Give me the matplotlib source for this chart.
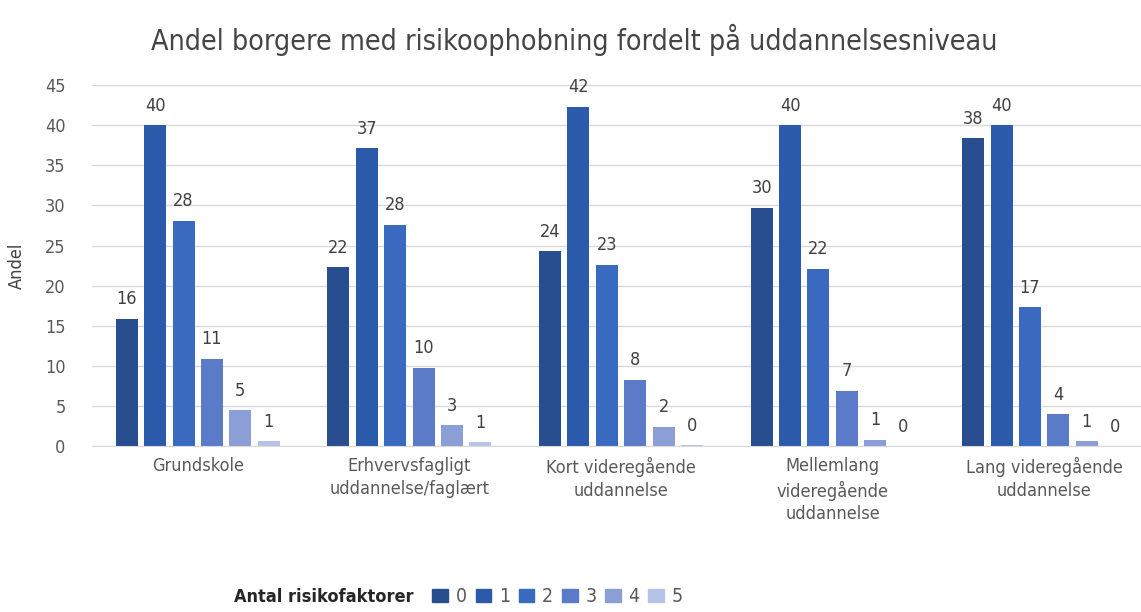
import matplotlib.pyplot as plt
import numpy as np
from matplotlib.patches import Patch

# uddannelsesniveauer
categories = ['Grundskole', 'Erhvervsfagligt\nuddannelse/faglært', 'Kort videregående\nuddannelse',
              'Mellemlang\nvideregående\nuddannelse', 'Lang videregående\nuddannelse']
series_names = ['0', '1', '2', '3', '4', '5']

# andel, en liste pr. antal risikofaktorer
r0 = [15.9, 22.3, 24.3, 29.7, 38.4]
r1 = [40.0, 37.1, 42.3, 40.0, 40.0]
r2 = [28.1, 27.6, 22.6, 22.1, 17.3]
r3 = [10.9, 9.8, 8.3, 6.9, 4.0]
r4 = [4.5, 2.6, 2.4, 0.8, 0.6]
r5 = [0.6, 0.5, 0.1, 0.0, 0.0]

# viste etiketter
l0 = ['16', '22', '24', '30', '38']
l1 = ['40', '37', '42', '40', '40']
l2 = ['28', '28', '23', '22', '17']
l3 = ['11', '10', '8', '7', '4']
l4 = ['5', '3', '2', '1', '1']
l5 = ['1', '1', '0', '0', '0']

values = [r0, r1, r2, r3, r4, r5]
labels = [l0, l1, l2, l3, l4, l5]
colors = ['#284e8f', '#2c5aab', '#3a69c0', '#5b7bc9', '#8b9fd6', '#b7c3e6']

plt.rcParams['font.family'] = 'DejaVu Sans'
plt.rcParams['font.stretch'] = 'condensed'

fig = plt.figure(figsize=(11.41, 6.12), dpi=100)
# plotområdet går lidt ud over højre kant, som i originalen
ax = fig.add_axes([0.0806, 0.271, 0.9273, 0.590])

x = np.arange(len(categories))
pitch = 0.134
width = 0.104
for i, (vals, labs) in enumerate(zip(values, labels)):
    pos = x + (i - 2.5) * pitch
    ax.bar(pos, vals, width, color=colors[i], zorder=2)
    for p, v, t in zip(pos, vals, labs):
        ax.text(p, v + 1.3, t, ha='center', va='bottom', fontsize=13, color='#404040')

ax.set_xlim(-0.5, len(categories) - 0.5)
ax.set_ylim(0, 45)
ax.set_yticks(range(0, 46, 5))
ax.set_xticks(x)
ax.set_xticklabels(categories, fontsize=13, color='#595959', linespacing=1.33)
ax.tick_params(axis='y', labelsize=13, labelcolor='#595959', length=0, pad=19)
ax.tick_params(axis='x', length=0, pad=8)
ax.yaxis.grid(True, color='#d9d9d9', linewidth=1, zorder=0)
for s in ['top', 'right', 'left']:
    ax.spines[s].set_visible(False)
ax.spines['bottom'].set_color('#d9d9d9')
ax.set_ylabel('Andel', fontsize=13, color='#404040', labelpad=14)

fig.text(0.503, 0.935, 'Andel borgere med risikoophobning fordelt på uddannelsesniveau',
         ha='center', va='center', fontsize=20.5, color='#454545')

fig.text(0.362, 0.025, 'Antal risikofaktorer', ha='right', va='center',
         fontsize=13, fontweight='bold', color='#262626')
handles = [Patch(color=c, label=n) for c, n in zip(colors, series_names)]
fig.legend(handles=handles, loc='center left', bbox_to_anchor=(0.379, 0.025), ncol=6,
           frameon=False, fontsize=14, handlelength=0.8, handleheight=0.7,
           handletextpad=0.4, columnspacing=0.45, labelcolor='#595959',
           borderaxespad=0, borderpad=0)

fig.savefig('out.png')
